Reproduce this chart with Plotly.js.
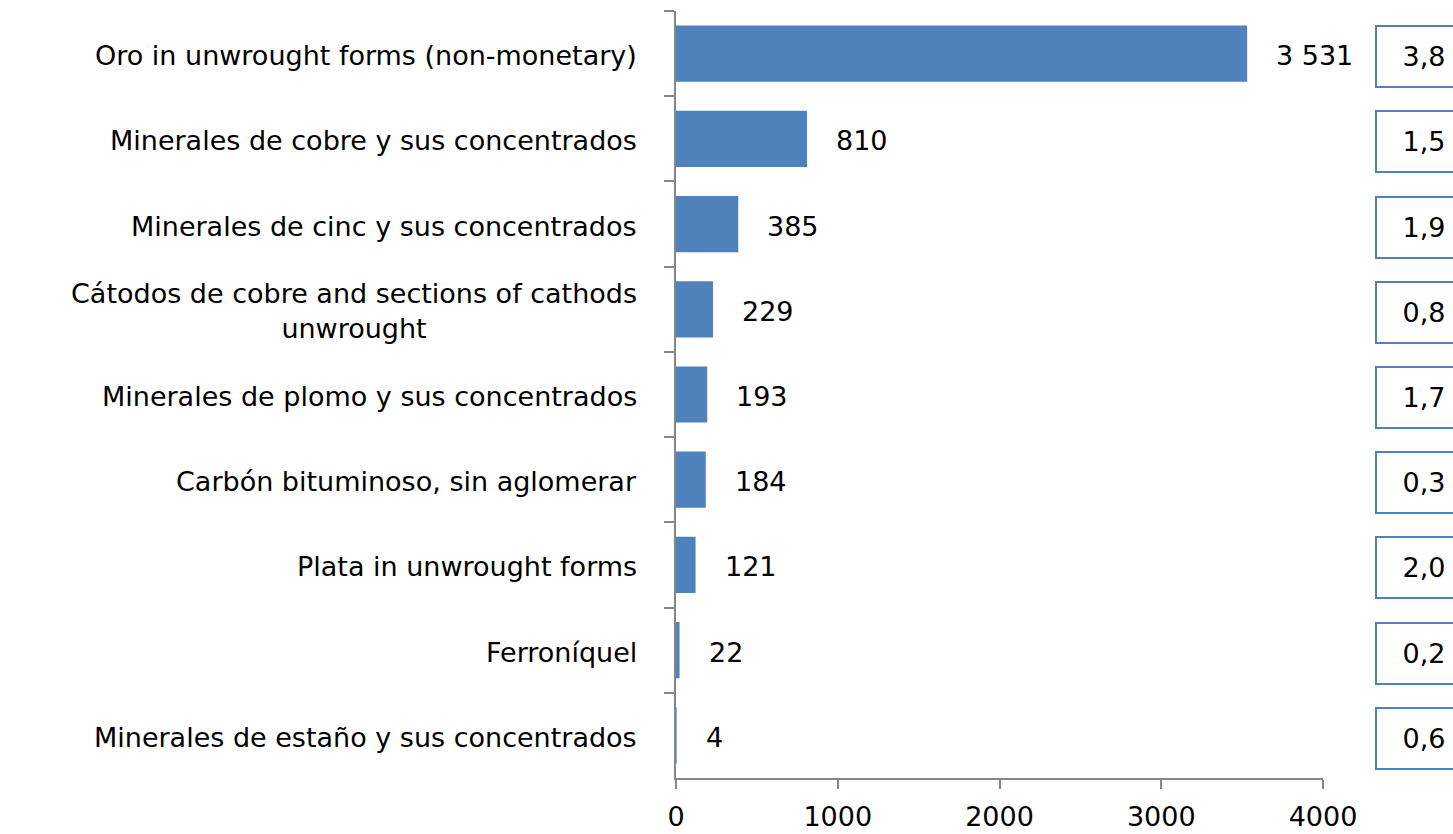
<!DOCTYPE html>
<html>
<head>
<meta charset="utf-8">
<script src="https://cdn.plot.ly/plotly-3.0.1.min.js"></script>
<style>html,body{margin:0;padding:0;background:#fff;}#chart{width:1453px;height:834px;}</style>
</head>
<body>
<div id="chart"></div>
<script>
var categories = [
  "Oro in unwrought forms (non-monetary)",
  "Minerales de cobre y sus concentrados",
  "Minerales de cinc y sus concentrados",
  "Cátodos de cobre and sections of cathods<br>unwrought",
  "Minerales de plomo y sus concentrados",
  "Carbón bituminoso, sin aglomerar",
  "Plata in unwrought forms",
  "Ferroníquel",
  "Minerales de estaño y sus concentrados"
];
var values = [3531, 810, 385, 229, 193, 184, 121, 22, 4];
var valueLabels = ["3 531", "810", "385", "229", "193", "184", "121", "22", "4"];
var boxLabels = ["3,8", "1,5", "1,9", "0,8", "1,7", "0,3", "2,0", "0,2", "0,6"];
var xTicks = [0, 1000, 2000, 3000, 4000];

var FONT = "DejaVu Sans, sans-serif";
var BLUE = "#4F81BD";
var AXIS = "#868686";
var FS = 27;

var trace = {
  type: "bar",
  orientation: "h",
  x: values,
  y: categories,
  marker: {color: BLUE, line: {width: 0}},
  hoverinfo: "x+y"
};

var annotations = [];
for (var i = 0; i < categories.length; i++) {
  annotations.push({
    x: 0, y: categories[i], xref: "paper", yref: "y",
    text: categories[i], showarrow: false,
    xanchor: "right", yanchor: "middle", xshift: -37, yshift: -2,
    align: "center",
    font: {family: FONT, size: FS, color: "#000"}
  });
  annotations.push({
    x: values[i], y: categories[i], xref: "x", yref: "y",
    text: valueLabels[i], showarrow: false,
    xanchor: "left", xshift: 27, yshift: -2,
    font: {family: FONT, size: FS, color: "#000"}
  });
  annotations.push({
    x: 1.156, y: categories[i], xref: "paper", yref: "y",
    text: boxLabels[i], showarrow: false,
    xanchor: "center", yanchor: "middle", yshift: -3,
    width: 92, height: 57, borderpad: 1, borderwidth: 2,
    bordercolor: BLUE, bgcolor: "#fff",
    font: {family: FONT, size: FS, color: "#000"}
  });
}

var layout = {
  width: 1453, height: 834,
  margin: {l: 676, r: 130, t: 11, b: 56, pad: 0},
  paper_bgcolor: "#fff", plot_bgcolor: "#fff",
  showlegend: false,
  bargap: 0.34,
  font: {family: FONT, size: FS, color: "#000"},
  xaxis: {
    range: [0, 4000], tickvals: xTicks, ticktext: xTicks.map(String),
    showgrid: false, zeroline: false,
    showline: true, linecolor: AXIS, linewidth: 2,
    ticks: "outside", ticklen: 9, tickwidth: 2, tickcolor: AXIS,
    ticklabelstandoff: 5,
    tickfont: {family: FONT, size: FS, color: "#000"},
    fixedrange: true
  },
  yaxis: {
    type: "category", autorange: "reversed",
    showgrid: false, zeroline: false,
    showline: true, linecolor: AXIS, linewidth: 2,
    ticks: "outside", ticklen: 10, tickwidth: 2, tickcolor: AXIS,
    tickson: "boundaries",
    showticklabels: false,
    fixedrange: true
  },
  annotations: annotations
};

Plotly.newPlot("chart", [trace], layout, {displayModeBar: false, staticPlot: true});
</script>
</body>
</html>
